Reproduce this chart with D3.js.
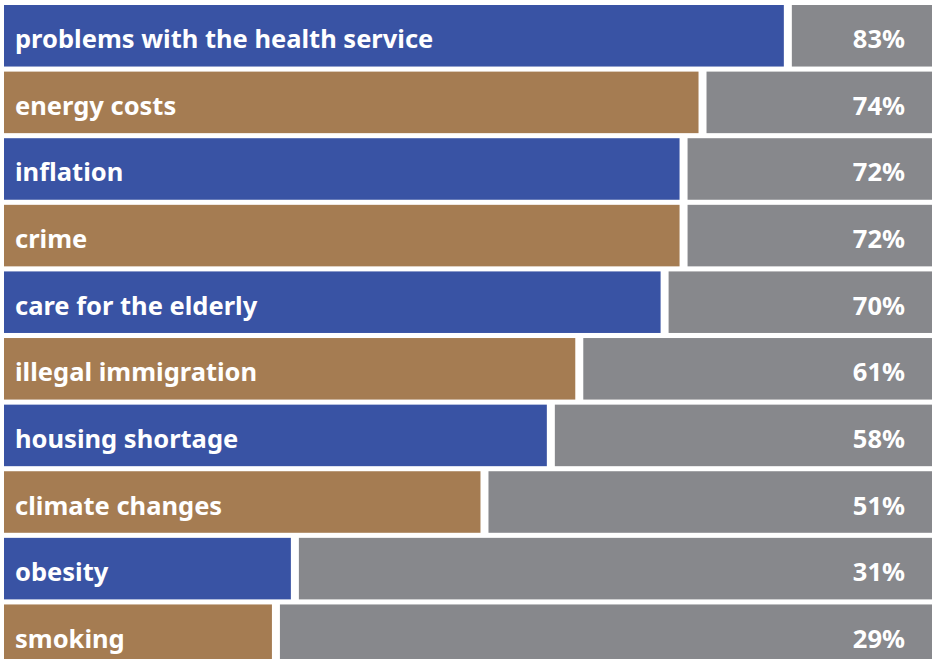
<!DOCTYPE html>
<html>
<head>
<meta charset="utf-8">
<script src="https://cdn.jsdelivr.net/npm/d3@7"></script>
<style>
  body { margin: 0; background: #fff; }
  text { font-family: "Noto Sans", sans-serif; font-weight: 700; fill: #fff; }
</style>
</head>
<body>
<div id="chart"></div>
<script>
// Data
var categories = ["problems with the health service", "energy costs", "inflation", "crime",
  "care for the elderly", "illegal immigration", "housing shortage", "climate changes",
  "obesity", "smoking"];
var values = [83, 74, 72, 72, 70, 61, 58, 51, 31, 29];
var valueLabels = ["83%", "74%", "72%", "72%", "70%", "61%", "58%", "51%", "31%", "29%"];

var svgWidth = 932;
var svgHeight = 659;

var colors = ["#3953a4", "#a57c52"];
var restColor = "#87888c";

var svg = d3.select("#chart")
  .append("svg")
  .attr("width", svgWidth)
  .attr("height", svgHeight);

// x scale: 0..100 %
var x = d3.scaleLinear()
  .domain([0, 100])
  .range([-3, 945]);

// rows
var y = d3.scaleBand()
  .domain(categories)
  .range([5, 5 + 66.1 * categories.length])
  .paddingInner(0.076)
  .paddingOuter(0);

var rows = svg.selectAll("g.row")
  .data(categories)
  .enter()
  .append("g")
  .attr("class", "row")
  .attr("transform", d => `translate(0, ${y(d)})`);

// coloured bar
rows.append("rect")
  .attr("x", 4)
  .attr("y", 0)
  .attr("width", (d, i) => x(values[i]) - 4)
  .attr("height", y.bandwidth())
  .attr("fill", (d, i) => colors[i % 2]);

// grey remainder
rows.append("rect")
  .attr("x", (d, i) => x(values[i]) + 8)
  .attr("y", 0)
  .attr("width", (d, i) => svgWidth - x(values[i]) - 8)
  .attr("height", y.bandwidth())
  .attr("fill", restColor);

// category label
rows.append("text")
  .attr("x", 15)
  .attr("y", y.bandwidth() / 2 + 12.5)
  .attr("font-size", "25.5px")
  .text(d => d);

// percent label
rows.append("text")
  .attr("x", 905)
  .attr("y", y.bandwidth() / 2 + 12.5)
  .attr("text-anchor", "end")
  .attr("font-size", "25.5px")
  .text((d, i) => valueLabels[i]);
</script>
</body>
</html>
